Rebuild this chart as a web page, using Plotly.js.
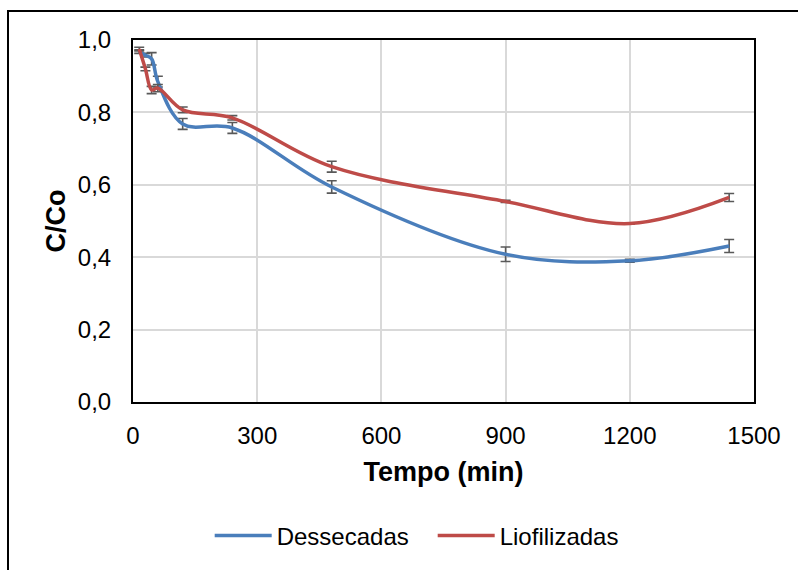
<!DOCTYPE html>
<html>
<head>
<meta charset="utf-8">
<script src="https://cdn.plot.ly/plotly-3.0.1.min.js"></script>
<style>
  html, body { margin: 0; padding: 0; background: #fff; }
  #wrap { position: relative; width: 798px; height: 570px; overflow: hidden; }
  #chart { width: 798px; height: 570px; }
  #frame { position: absolute; left: 7px; top: 10px; width: 900px; height: 900px;
           border-left: 2px solid #000; border-top: 2px solid #000; pointer-events: none; }
</style>
</head>
<body>
<div id="wrap">
  <div id="chart"></div>
  <div id="frame"></div>
</div>
<script>
// Time (min)
const tempo = [15, 30, 45, 60, 120, 240, 480, 900, 1200, 1440];
// C/Co values
const dessecadas    = [0.968, 0.958, 0.948, 0.885, 0.768, 0.757, 0.594, 0.408, 0.390, 0.431];
const dessecadasErr = [0.005, 0.005, 0.017, 0.015, 0.015, 0.015, 0.017, 0.020, 0.004, 0.018];
const liofilizadas    = [0.975, 0.920, 0.862, 0.867, 0.807, 0.785, 0.650, 0.554, 0.493, 0.565];
const liofilizadasErr = [0.005, 0.005, 0.010, 0.010, 0.008, 0.006, 0.015, 0.003, 0.002, 0.011];
const xTicks = [0, 300, 600, 900, 1200, 1500];
const yTicks = [0, 0.2, 0.4, 0.6, 0.8, 1.0];

const errStyle = { type: 'data', visible: true, color: '#595959', thickness: 1.6, width: 5 };

const traces = [
  { x: tempo, y: dessecadas, name: 'Dessecadas', mode: 'lines', type: 'scatter',
    line: { color: '#4A7EBB', width: 3.5, shape: 'spline', smoothing: 1 },
    error_y: Object.assign({ array: dessecadasErr }, errStyle) },
  { x: tempo, y: liofilizadas, name: 'Liofilizadas', mode: 'lines', type: 'scatter',
    line: { color: '#BE4B48', width: 3.5, shape: 'spline', smoothing: 1 },
    error_y: Object.assign({ array: liofilizadasErr }, errStyle) }
];

const layout = {
  width: 798, height: 570,
  margin: { l: 133, r: 44, t: 40, b: 165 },
  paper_bgcolor: '#fff', plot_bgcolor: '#fff',
  separators: ',.',
  font: { family: 'Liberation Sans, Arial, sans-serif', color: '#000', size: 24 },
  xaxis: {
    range: [0, 1500], tickvals: xTicks, ticktext: xTicks.map(String),
    showgrid: true, gridcolor: '#D9D9D9', gridwidth: 2,
    showline: true, mirror: true, linecolor: '#000', linewidth: 2,
    zeroline: false, ticks: '', ticklabelstandoff: 11,
    tickfont: { size: 24 },
    title: { text: '<b>Tempo (min)</b>', font: { size: 27 }, standoff: 14 }
  },
  yaxis: {
    range: [0, 1], tickvals: yTicks, ticktext: yTicks.map(v => v.toFixed(1).replace('.', ',')),
    showgrid: true, gridcolor: '#D9D9D9', gridwidth: 2,
    showline: true, mirror: true, linecolor: '#000', linewidth: 2,
    zeroline: false, ticks: '', ticklabelstandoff: 15,
    tickfont: { size: 24 },
    title: { text: '<b>C/Co</b>', font: { size: 27 }, standoff: 4 }
  },
  showlegend: true,
  legend: { orientation: 'h', x: 0.1235, xanchor: 'left', y: -0.37, yanchor: 'middle',
            font: { size: 24 }, itemwidth: 57, entrywidth: 151, entrywidthmode: 'pixels',
            bgcolor: 'rgba(0,0,0,0)' }
};

Plotly.newPlot('chart', traces, layout, { displayModeBar: false, staticPlot: true });
</script>
</body>
</html>
